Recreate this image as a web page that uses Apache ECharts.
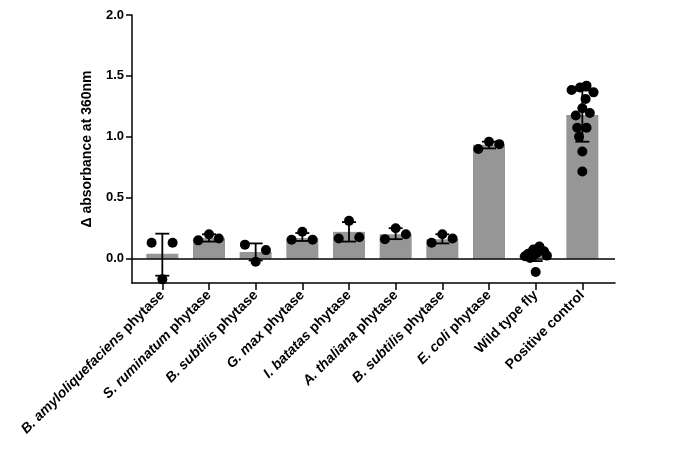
<!DOCTYPE html>
<html><head><meta charset="utf-8">
<script src="https://cdn.jsdelivr.net/npm/echarts@6/dist/echarts.min.js"></script>
<style>html,body{margin:0;background:#fff}#chart{width:680px;height:476px}</style>
</head><body><div id="chart"></div>
<script>
const categories = [
	["B. amyloliquefaciens", " phytase"], ["S. ruminatum", " phytase"], ["B. subtilis", " phytase"],
	["G. max", " phytase"], ["I. batatas", " phytase"], ["A. thaliana", " phytase"],
	["B. subtilis", " phytase"], ["E. coli", " phytase"], ["", "Wild type fly"], ["", "Positive control"]
];
const means = [0.04, 0.17, 0.055, 0.17, 0.22, 0.2, 0.16, 0.935, 0.03, 1.18];
const errHigh = [0.205, 0.2, 0.125, 0.21, 0.3, 0.25, 0.2, 0.96, 0.08, 1.38];
const errLow = [-0.14, 0.14, -0.015, 0.145, 0.14, 0.16, 0.125, 0.905, -0.02, 0.96];
// individual replicates: [category position (with jitter), value]
const points = [
	[-0.23, 0.13], [0.22, 0.13], [0, -0.17],
	[0.77, 0.15], [1, 0.2], [1.21, 0.165],
	[1.77, 0.115], [2.22, 0.07], [2, -0.025],
	[2.77, 0.155], [3, 0.22], [3.22, 0.155],
	[3.78, 0.165], [4, 0.31], [4.22, 0.175],
	[4.77, 0.16], [5, 0.25], [5.22, 0.2],
	[5.77, 0.13], [6, 0.2], [6.22, 0.165],
	[6.77, 0.9], [7, 0.96], [7.22, 0.94],
	[7.84, 0.04], [7.95, 0.075], [8.08, 0.1], [8.24, 0.025], [7.88, 0.005], [8.02, 0.045], [7.77, 0.02], [8, -0.11], [8.18, 0.06],
	[8.77, 1.385], [8.95, 1.405], [9.09, 1.42], [9.24, 1.365], [9.07, 1.31], [8.86, 1.175], [9, 1.235], [9.16, 1.195],
	[8.89, 1.075], [9.09, 1.075], [8.93, 1.0], [9, 0.88], [9, 0.715]
];
const yTicks = [0, 0.5, 1.0, 1.5, 2.0];

const chart = echarts.init(document.getElementById("chart"));
const font = "Liberation Sans";

option = {
	animation: false,
	grid: { left: 132, right: 65, top: 15, bottom: 193 },
	xAxis: {
		type: "value", min: -0.65, max: 9.7,
		splitLine: { show: false },
		axisLine: { onZero: false, lineStyle: { color: "#000", width: 1.5 } },
		axisTick: { show: true, customValues: [0, 1, 2, 3, 4, 5, 6, 7, 8, 9], length: 7, lineStyle: { color: "#000", width: 1.5 } },
		axisLabel: {
			customValues: [0, 1, 2, 3, 4, 5, 6, 7, 8, 9],
			rotate: 45, margin: 10,
			formatter: v => {
				const c = categories[Math.round(v)];
				return (c[0] ? "{i|" + c[0] + "}" : "") + "{n|" + c[1] + "}";
			},
			rich: {
				i: { fontFamily: font, fontSize: 14, fontWeight: "bold", fontStyle: "italic", color: "#000" },
				n: { fontFamily: font, fontSize: 14, fontWeight: "bold", color: "#000" }
			}
		}
	},
	yAxis: {
		type: "value", min: -0.2, max: 2.0,
		name: "Δ absorbance at 360nm", nameLocation: "middle", nameGap: 38,
		nameTextStyle: { fontFamily: font, fontSize: 14, fontWeight: "bold", color: "#000" },
		splitLine: { show: false },
		axisLine: { show: true, onZero: false, lineStyle: { color: "#000", width: 1.5 } },
		axisTick: { show: true, customValues: yTicks, length: 6, lineStyle: { color: "#000", width: 1.5 } },
		axisLabel: { customValues: yTicks, formatter: v => v.toFixed(1), fontFamily: font, fontSize: 13, fontWeight: "bold", color: "#000" }
	},
	series: [{
		type: "bar",
		data: means.map((m, i) => [i, m]),
		barWidth: 32,
		itemStyle: { color: "#969696" },
		markLine: {
			silent: true, symbol: "none", label: { show: false },
			lineStyle: { color: "#000", width: 1.5, type: "solid" },
			data: [{ yAxis: 0 }]
		}
	}, {
		type: "custom",
		data: means.map((m, i) => [i, errLow[i], errHigh[i]]),
		renderItem: (params, api) => {
			const lo = api.coord([api.value(0), api.value(1)]);
			const hi = api.coord([api.value(0), api.value(2)]);
			const w = 7;
			const st = { stroke: "#000", lineWidth: 1.8 };
			return { type: "group", children: [
				{ type: "line", shape: { x1: lo[0], y1: lo[1], x2: hi[0], y2: hi[1] }, style: st },
				{ type: "line", shape: { x1: hi[0] - w, y1: hi[1], x2: hi[0] + w, y2: hi[1] }, style: st },
				{ type: "line", shape: { x1: lo[0] - w, y1: lo[1], x2: lo[0] + w, y2: lo[1] }, style: st }
			] };
		},
		z: 3
	}, {
		type: "scatter",
		data: points,
		symbolSize: 10,
		itemStyle: { color: "#000", opacity: 1 },
		z: 4
	}]
};

chart.setOption(option);
window.onresize = chart.resize;
</script></body></html>
